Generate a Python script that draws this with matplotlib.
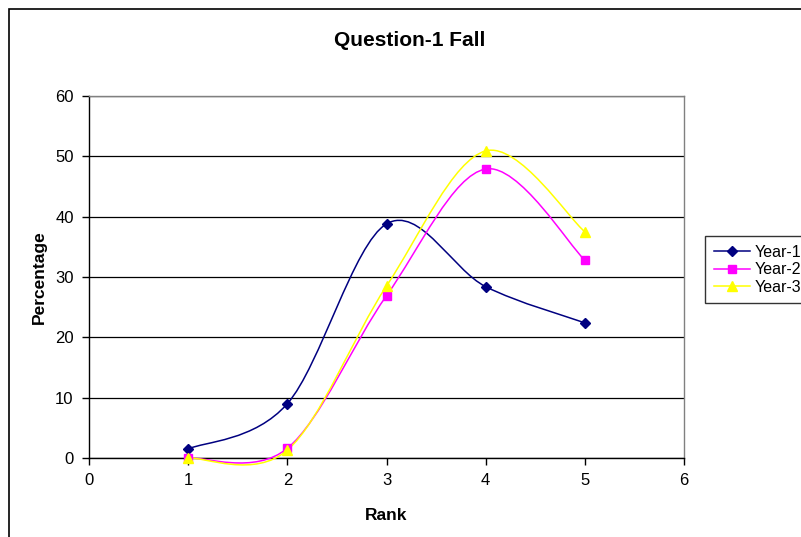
import matplotlib
matplotlib.use("Agg")
import matplotlib.pyplot as plt
import numpy as np
from matplotlib.lines import Line2D
from matplotlib.patches import PathPatch, Rectangle
from matplotlib.path import Path

plt.rcParams["font.family"] = ["Liberation Sans", "DejaVu Sans"]

ranks = [1, 2, 3, 4, 5]
year1 = [1.5, 9.0, 38.8, 28.4, 22.4]
year2 = [0.0, 1.6, 26.9, 47.9, 32.8]
year3 = [0.0, 1.3, 28.5, 50.9, 37.5]
series_names = ["Year-1", "Year-2", "Year-3"]
x_ticks = [0, 1, 2, 3, 4, 5, 6]
y_ticks = [0, 10, 20, 30, 40, 50, 60]


def smooth_path(xs, ys):
    # Excel-like smoothed line: Catmull-Rom segments drawn as cubic Beziers
    pts = np.column_stack([xs, ys]).astype(float)
    n = len(pts)
    verts = [pts[0]]
    codes = [Path.MOVETO]
    for i in range(n - 1):
        p_prev = pts[max(i - 1, 0)]
        p0, p1 = pts[i], pts[i + 1]
        p_next = pts[min(i + 2, n - 1)]
        c1 = p0 + (p1 - p_prev) / 6.0
        c2 = p1 - (p_next - p0) / 6.0
        verts += [c1, c2, p1]
        codes += [Path.CURVE4] * 3
    return Path(verts, codes)


styles = [
    dict(color="#000080", marker="D", ms=5.5),
    dict(color="#FF00FF", marker="s", ms=5.5),
    dict(color="#FFFF00", marker="^", ms=7),
]

fig = plt.figure(figsize=(8.01, 5.37), dpi=100)
ax = fig.add_axes([89 / 801, 1 - 458 / 537, 595 / 801, 362 / 537])

handles = []
for values, name, st in zip([year1, year2, year3], series_names, styles):
    ax.add_patch(PathPatch(smooth_path(ranks, values), fill=False,
                           edgecolor=st["color"], lw=1.1, zorder=3,
                           clip_on=False))
    ax.plot(ranks, values, linestyle="none", marker=st["marker"], ms=st["ms"],
            color=st["color"], mec=st["color"], zorder=4, clip_on=False)
    handles.append(Line2D([], [], color=st["color"], lw=1.1, marker=st["marker"],
                          ms=st["ms"], mec=st["color"]))

ax.set_xlim(0, 6)
ax.set_ylim(0, 60)
ax.set_xticks(x_ticks)
ax.set_yticks(y_ticks)
ax.grid(axis="y", color="black", lw=0.9)
ax.set_axisbelow(True)
for side in ["top", "right"]:
    ax.spines[side].set_color("#808080")
    ax.spines[side].set_linewidth(1.0)
for side in ["left", "bottom"]:
    ax.spines[side].set_color("black")
    ax.spines[side].set_linewidth(1.0)
ax.tick_params(direction="out", length=5, width=1, labelsize=12, pad=6)

ax.set_xlabel("Rank", fontsize=12.5, fontweight="bold", labelpad=14)
ax.set_ylabel("Percentage", fontsize=12.5, fontweight="bold", labelpad=6)
fig.text(410 / 801, 1 - 40 / 537, "Question-1 Fall", ha="center", va="center",
         fontsize=15, fontweight="bold")

leg = fig.legend(handles, series_names, loc="upper left",
                 bbox_to_anchor=(705 / 801, 1 - 236 / 537), fontsize=11.5,
                 frameon=True, fancybox=False, edgecolor="black",
                 handlelength=2.25, handletextpad=0.3, labelspacing=0.15,
                 borderpad=0.55, borderaxespad=0)
leg.get_frame().set_linewidth(1.0)

fig.patches.append(Rectangle((9 / 801, -0.1), 1.2, 1.1 - 9 / 537, fill=False,
                             edgecolor="black", lw=1.2, transform=fig.transFigure))

fig.savefig("out.png", dpi=100)
